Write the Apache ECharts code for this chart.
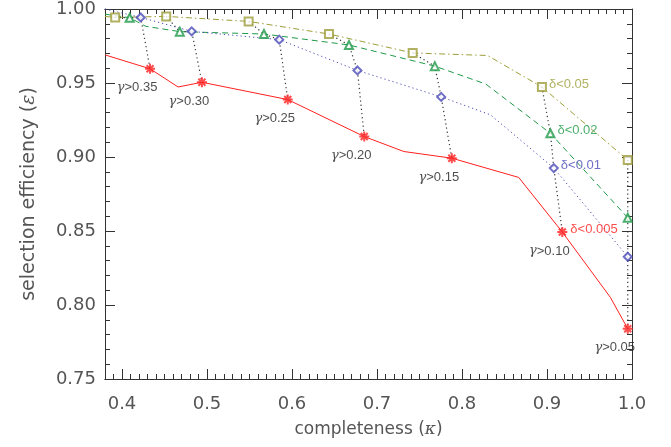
<!DOCTYPE html>
<html>
<head>
<meta charset="utf-8">
<script src="https://cdn.jsdelivr.net/npm/echarts@6/dist/echarts.min.js"></script>
<style>
  html, body { margin: 0; background: #fff; }
  #chart { width: 671px; height: 447px; }
</style>
</head>
<body>
<div id="chart"></div>
<script>
// ---- data: [completeness, efficiency] ----
const gammaCuts = ['0.35', '0.30', '0.25', '0.20', '0.15', '0.10', '0.05'];
const deltaCuts = ['0.05', '0.02', '0.01', '0.005'];

// points at each gamma cut
const olivePts = [[0.392, 0.9943], [0.452, 0.995], [0.549, 0.9916], [0.6435, 0.9831], [0.742, 0.9703], [0.894, 0.9473], [0.995, 0.898]];
const greenPts = [[0.409, 0.9941], [0.468, 0.9847], [0.567, 0.9831], [0.667, 0.9757], [0.768, 0.9614], [0.904, 0.916], [0.995, 0.859]];
const bluePts  = [[0.422, 0.9943], [0.482, 0.9849], [0.585, 0.9793], [0.677, 0.9585], [0.7755, 0.9406], [0.908, 0.8925], [0.995, 0.8326]];
const redPts   = [[0.433, 0.9596], [0.494, 0.9505], [0.595, 0.9388], [0.685, 0.9138], [0.788, 0.8992], [0.918, 0.8493], [0.995, 0.784]];

// extra vertices of the curves (no marker)
const oliveBends = [[0.38, 0.995], [0.83, 0.9686]];
const greenBends = [[0.38, 0.9965], [0.428, 0.9883], [0.828, 0.9493]];
const blueBends  = [[0.38, 1.0], [0.8335, 0.9285]];
const redBends   = [[0.38, 0.969], [0.466, 0.9473], [0.7316, 0.9037], [0.8667, 0.8862], [0.9745, 0.8052]];

const xMajor = [0.4, 0.5, 0.6, 0.7, 0.8, 0.9, 1.0];
const xMinor = [];
for (let i = 38; i <= 100; i++) xMinor.push(i / 100);

// ---- styles ----
const inkColor = '#333';
const textColor = '#555';
const asterisk = 'path://M5 0L5 10M0 5L10 5M1.5 1.5L8.5 8.5M8.5 1.5L1.5 8.5';

const curves = [
  { delta: deltaCuts[0], pts: olivePts, bends: oliveBends, color: '#9e9e3a', dash: [6, 3, 1.5, 3], symbol: 'emptyRect', size: 8 },
  { delta: deltaCuts[1], pts: greenPts, bends: greenBends, color: '#1f9a48', dash: [6, 4], symbol: 'emptyTriangle', size: 8 },
  { delta: deltaCuts[2], pts: bluePts, bends: blueBends, color: '#4a4ab8', dash: [1.2, 3], symbol: 'emptyDiamond', size: 8 },
  { delta: deltaCuts[3], pts: redPts, bends: redBends, color: '#ff2020', dash: 'solid', symbol: asterisk, size: 10 }
];

const byX = (a, b) => a[0] - b[0];
const series = [];

// the curves
curves.forEach(c => {
  series.push({
    type: 'line',
    data: c.pts.concat(c.bends).sort(byX),
    symbol: 'none',
    silent: true,
    lineStyle: { color: c.color, width: 1, type: c.dash },
    z: 2
  });
});

// dotted lines joining equal gamma cuts
gammaCuts.forEach((g, i) => {
  series.push({
    type: 'line',
    data: curves.map(c => c.pts[i]),
    symbol: 'none',
    silent: true,
    lineStyle: { color: '#333', width: 1.2, type: [1.2, 3] },
    z: 3
  });
});

// markers + delta labels
curves.forEach(c => {
  series.push({
    type: 'scatter',
    symbol: c.symbol,
    symbolSize: c.size,
    itemStyle: { color: c.color, borderColor: c.color, borderWidth: c.symbol === asterisk ? 2 : 1 },
    data: c.pts.map((p, i) => i === 5 ? {
      value: p,
      label: {
        show: true, position: 'right', distance: 2, offset: [0, -3],
        formatter: 'δ<' + c.delta, color: c.color,
        fontFamily: 'Liberation Sans', fontSize: 13
      }
    } : p),
    z: 5
  });
});

// gamma labels under the red markers
series.push({
  type: 'scatter',
  symbolSize: 0,
  silent: true,
  data: redPts,
  label: {
    show: true, position: 'inside', offset: [-13, 19],
    formatter: p => '{g|γ}>' + gammaCuts[p.dataIndex],
    color: '#222', fontFamily: 'Liberation Sans', fontSize: 13,
    rich: { g: { fontStyle: 'italic', fontFamily: 'DejaVu Serif', fontSize: 13, color: '#222' } }
  },
  z: 6
});

const xBase = (pos, ticks, len, withLabel) => ({
  type: 'value', position: pos, min: 0.38, max: 1.0,
  axisLine: { show: true, onZero: false, lineStyle: { color: inkColor, width: 1 } },
  axisTick: { show: true, inside: true, length: len, customValues: ticks, lineStyle: { color: inkColor } },
  axisLabel: withLabel ? {
    customValues: xMajor, formatter: v => v.toFixed(1), margin: 16,
    color: textColor, fontFamily: 'DejaVu Sans', fontSize: 18
  } : { show: false },
  splitLine: { show: false }
});

const yBase = (pos, withLabel) => ({
  type: 'value', position: pos, min: 0.75, max: 1.0, interval: 0.05,
  axisLine: { show: true, onZero: false, lineStyle: { color: inkColor, width: 1 } },
  axisTick: { show: true, inside: true, length: 10, lineStyle: { color: inkColor } },
  minorTick: { show: true, splitNumber: 5, length: 5, lineStyle: { color: inkColor } },
  axisLabel: withLabel ? {
    formatter: v => v.toFixed(2), margin: 9,
    color: textColor, fontFamily: 'DejaVu Sans', fontSize: 18
  } : { show: false },
  splitLine: { show: false }
});

const xBottom = xBase('bottom', xMajor, 10, true);
xBottom.name = 'completeness ({i|κ})';
xBottom.nameLocation = 'middle';
xBottom.nameGap = 42;
xBottom.nameTextStyle = {
  color: textColor, fontFamily: 'DejaVu Sans', fontSize: 17,
  rich: { i: { fontStyle: 'italic', fontFamily: 'DejaVu Serif', fontSize: 17, color: textColor } }
};

const yLeft = yBase('left', true);
yLeft.name = 'selection efficiency ({i|ε})';
yLeft.nameLocation = 'middle';
yLeft.nameGap = 66;
yLeft.nameTextStyle = {
  color: textColor, fontFamily: 'DejaVu Sans', fontSize: 19,
  rich: { i: { fontStyle: 'italic', fontFamily: 'DejaVu Serif', fontSize: 19, color: textColor } }
};

const option = {
  backgroundColor: '#fff',
  animation: false,
  grid: { left: 105, right: 39, top: 7, bottom: 68, containLabel: false },
  xAxis: [
    xBottom,
    xBase('bottom', xMinor, 5, false),
    xBase('top', xMajor, 10, false),
    xBase('top', xMinor, 5, false)
  ],
  yAxis: [yLeft, yBase('right', false)],
  series: series
};

const chart = echarts.init(document.getElementById('chart'));
chart.setOption(option);
window.addEventListener('resize', () => chart.resize());
</script>
</body>
</html>
